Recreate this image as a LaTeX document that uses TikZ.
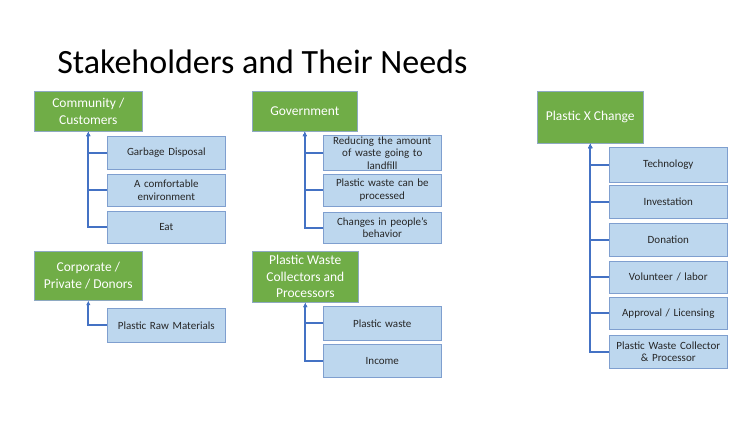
\documentclass[tikz,border=0pt]{standalone}
\usepackage{fontspec}
\setmainfont{Carlito}
\usetikzlibrary{arrows.meta}
\definecolor{headGreen}{HTML}{70AD47}
\definecolor{headLine}{HTML}{8EA9C1}
\definecolor{needBlue}{HTML}{BDD7EE}
\definecolor{needLine}{HTML}{7F9FCF}
\definecolor{linkBlue}{HTML}{4472C4}
\tikzset{
  head/.style={draw=headLine, fill=headGreen, text=white, anchor=north west,
    inner sep=0pt, align=center, font=\fontsize{13.5}{16.5}\selectfont},
  need/.style={draw=needLine, fill=needBlue, text=black!85, anchor=north west,
    inner sep=0pt, align=center, minimum width=118pt, text width=112pt,
    font=\fontsize{11}{12.5}\selectfont},
  link/.style={draw=linkBlue, line width=1.8pt, -{Latex[length=4.5pt,width=4.5pt]}}
}
\begin{document}
\begin{tikzpicture}[x=1pt, y=-1pt, line width=0.6pt]
    \useasboundingbox[fill=white] (0,0) rectangle (750,422);
    \node[anchor=base west, inner sep=0pt, font=\fontsize{34}{40}\selectfont] (title) at (57,74) {Stakeholders and Their Needs};

    % community / customers
    \node[head, minimum width=108pt, minimum height=40pt] (comm) at (34,91) {Community /\\Customers};
    \node[need, minimum height=33pt] (comm1) at (107,136) {Garbage Disposal};
    \node[need, minimum height=32pt] (comm2) at (107,174) {A comfortable\\environment};
    \node[need, minimum height=32pt] (comm3) at (107,211) {Eat};
    \foreach \n in {comm1,comm2,comm3}
        \draw[link] (\n.west) -| (comm.south);

    % corporate / private / donors
    \node[head, minimum width=108pt, minimum height=49pt] (corp) at (34,251) {Corporate /\\Private / Donors};
    \node[need, minimum height=34pt] (corp1) at (107,308) {Plastic Raw Materials};
    \draw[link] (corp1.west) -| (corp.south);

    % government
    \node[head, minimum width=105pt, minimum height=40pt] (gov) at (252,91) {Government};
    \node[need, minimum height=35pt] (gov1) at (323,135) {Reducing the amount\\of waste going to\\landfill};
    \node[need, minimum height=32pt] (gov2) at (323,174) {Plastic waste can be\\processed};
    \node[need, minimum height=31pt] (gov3) at (323,212) {Changes in people's\\behavior};
    \foreach \n in {gov1,gov2,gov3}
        \draw[link] (\n.west) -| (gov.south);

    % plastic waste collectors and processors
    \node[head, minimum width=106pt, minimum height=51pt] (coll) at (252,251) {Plastic Waste\\Collectors and\\Processors};
    \node[need, minimum height=34pt] (coll1) at (323,306) {Plastic waste};
    \node[need, minimum height=33pt] (coll2) at (323,344) {Income};
    \foreach \n in {coll1,coll2}
        \draw[link] (\n.west) -| (coll.south);

    % plastic x change
    \node[head, minimum width=106pt, minimum height=52pt] (pxc) at (537,91) {Plastic X Change};
    \node[need, minimum height=35pt] (pxc1) at (609,147) {Technology};
    \node[need, minimum height=33pt] (pxc2) at (609,185) {Investation};
    \node[need, minimum height=33pt] (pxc3) at (609,223) {Donation};
    \node[need, minimum height=32pt] (pxc4) at (609,261) {Volunteer / labor};
    \node[need, minimum height=32pt] (pxc5) at (609,297) {Approval / Licensing};
    \node[need, minimum height=33pt] (pxc6) at (609,335) {Plastic Waste Collector\\\& Processor};
    \foreach \n in {pxc1,pxc2,pxc3,pxc4,pxc5,pxc6}
        \draw[link] (\n.west) -| (pxc.south);
\end{tikzpicture}
\end{document}
